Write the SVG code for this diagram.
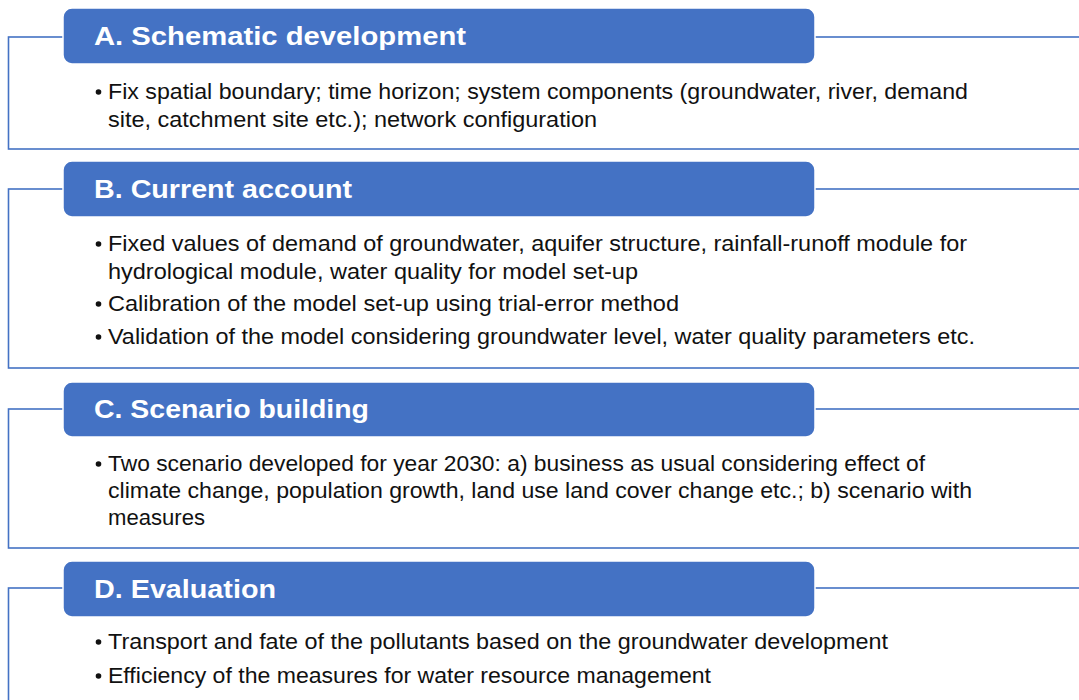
<svg xmlns="http://www.w3.org/2000/svg" width="1079" height="700" viewBox="0 0 1079 700">
<style>
.frame{fill:none;stroke:#4472C4;stroke-width:1.6}
.hdr{fill:#4472C4;stroke:#ffffff;stroke-width:1.5}
.ht{font-family:"Liberation Sans",Arial,sans-serif;font-weight:bold;font-size:26px;fill:#ffffff}
.bt{font-family:"Liberation Sans",Arial,sans-serif;font-size:22px;fill:#111111}
.dot{fill:#111111}
</style>
<rect width="1079" height="700" fill="#ffffff"/>
<g id="sectionA">
<rect class="frame" x="8.5" y="37" width="1090" height="112"/>
<rect class="hdr" x="63" y="8" width="752" height="56" rx="9"/>
<text class="ht" x="94" y="45" textLength="372" lengthAdjust="spacingAndGlyphs">A. Schematic development</text>
<circle class="dot" cx="98.5" cy="92" r="2.8"/>
<text class="bt" x="108" y="99" textLength="860" lengthAdjust="spacingAndGlyphs">Fix spatial boundary; time horizon; system components (groundwater, river, demand</text>
<text class="bt" x="108" y="127" textLength="489" lengthAdjust="spacingAndGlyphs">site, catchment site etc.); network configuration</text>
</g>
<g id="sectionB">
<rect class="frame" x="8.5" y="189" width="1090" height="179"/>
<rect class="hdr" x="63" y="161" width="752" height="56" rx="9"/>
<text class="ht" x="94" y="198" textLength="258" lengthAdjust="spacingAndGlyphs">B. Current account</text>
<circle class="dot" cx="98.5" cy="244" r="2.8"/>
<text class="bt" x="108" y="251" textLength="859" lengthAdjust="spacingAndGlyphs">Fixed values of demand of groundwater, aquifer structure, rainfall-runoff module for</text>
<text class="bt" x="108" y="279" textLength="530" lengthAdjust="spacingAndGlyphs">hydrological module, water quality for model set-up</text>
<circle class="dot" cx="98.5" cy="304" r="2.8"/>
<text class="bt" x="108" y="311" textLength="571" lengthAdjust="spacingAndGlyphs">Calibration of the model set-up using trial-error method</text>
<circle class="dot" cx="98.5" cy="337" r="2.8"/>
<text class="bt" x="108" y="344" textLength="867" lengthAdjust="spacingAndGlyphs">Validation of the model considering groundwater level, water quality parameters etc.</text>
</g>
<g id="sectionC">
<rect class="frame" x="8.5" y="409" width="1090" height="139"/>
<rect class="hdr" x="63" y="382" width="752" height="55" rx="9"/>
<text class="ht" x="94" y="418" textLength="275" lengthAdjust="spacingAndGlyphs">C. Scenario building</text>
<circle class="dot" cx="98.5" cy="464" r="2.8"/>
<text class="bt" x="108" y="471" textLength="817" lengthAdjust="spacingAndGlyphs">Two scenario developed for year 2030: a) business as usual considering effect of</text>
<text class="bt" x="108" y="498" textLength="864" lengthAdjust="spacingAndGlyphs">climate change, population growth, land use land cover change etc.; b) scenario with</text>
<text class="bt" x="108" y="525" textLength="97" lengthAdjust="spacingAndGlyphs">measures</text>
</g>
<g id="sectionD">
<rect class="frame" x="8.5" y="588" width="1090" height="150"/>
<rect class="hdr" x="63" y="561" width="752" height="56" rx="9"/>
<text class="ht" x="94" y="598" textLength="182" lengthAdjust="spacingAndGlyphs">D. Evaluation</text>
<circle class="dot" cx="98.5" cy="642" r="2.8"/>
<text class="bt" x="108" y="649" textLength="780" lengthAdjust="spacingAndGlyphs">Transport and fate of the pollutants based on the groundwater development</text>
<circle class="dot" cx="98.5" cy="676" r="2.8"/>
<text class="bt" x="108" y="683" textLength="603" lengthAdjust="spacingAndGlyphs">Efficiency of the measures for water resource management</text>
</g>
<g id="connectors"></g>
</svg>
